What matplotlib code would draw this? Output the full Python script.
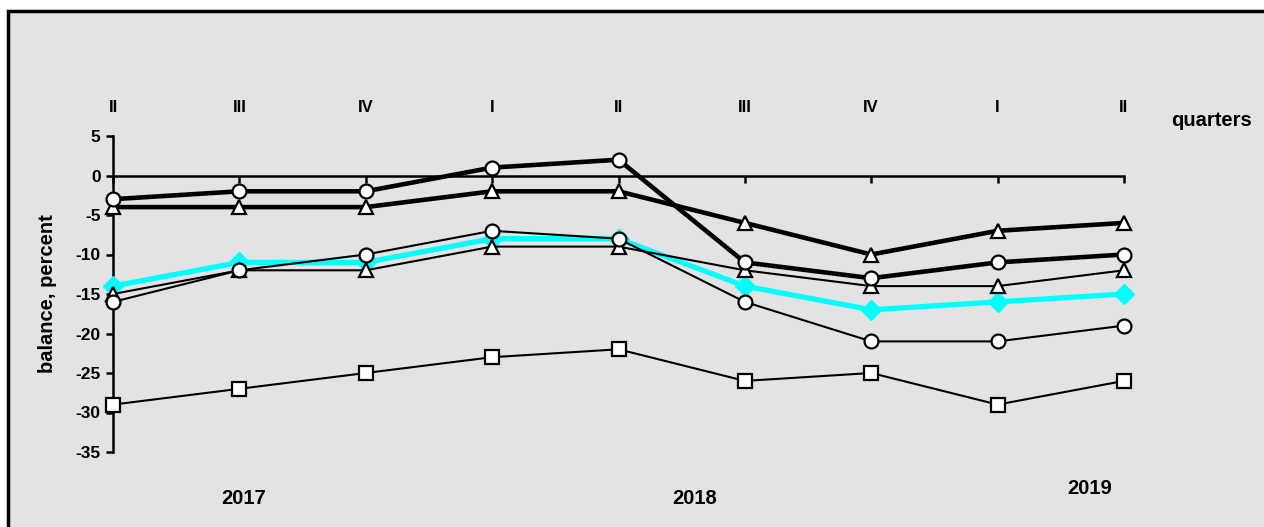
import matplotlib
matplotlib.use("Agg")
import matplotlib.pyplot as plt
from matplotlib.patches import Rectangle
from matplotlib.transforms import blended_transform_factory

plt.rcParams['font.family'] = ['Liberation Sans', 'DejaVu Sans']
plt.rcParams['font.weight'] = 'bold'
plt.rcParams['axes.unicode_minus'] = False

quarters = ['II', 'III', 'IV', 'I', 'II', 'III', 'IV', 'I', 'II']
years = ['2017', '2018', '2019']
year_pos = [1.03, 4.6, 7.73]

cyan_diamond = [-14, -11, -11, -8, -8, -14, -17, -16, -15]
thin_circle = [-16, -12, -10, -7, -8, -16, -21, -21, -19]
thin_triangle = [-15, -12, -12, -9, -9, -12, -14, -14, -12]
thin_square = [-29, -27, -25, -23, -22, -26, -25, -29, -26]
thick_triangle = [-4, -4, -4, -2, -2, -6, -10, -7, -6]
thick_circle = [-3, -2, -2, 1, 2, -11, -13, -11, -10]

W, H = 1264, 527
fig = plt.figure(figsize=(W / 100, H / 100), dpi=100)
fig.patch.set_facecolor('white')
bg = Rectangle((8 / W, -0.05), 1.1, (H - 11) / H + 0.05, transform=fig.transFigure,
               facecolor='#e3e3e3', edgecolor='black', linewidth=2.5, zorder=-10)
fig.patches.append(bg)

ax = fig.add_axes([113 / W, 1 - 452 / H, (1124 - 113) / W, (452 - 136) / H])
ax.set_facecolor('none')
x = list(range(len(quarters)))
ax.set_xlim(0, 8)
ax.set_ylim(-35, 5)

for s in ['top', 'right']:
    ax.spines[s].set_visible(False)
ax.spines['bottom'].set_position(('data', 0))
ax.spines['bottom'].set_linewidth(1.8)
ax.spines['left'].set_linewidth(1.8)
ax.set_yticks(range(-35, 6, 5))
ax.set_yticklabels([str(v) for v in range(-35, 6, 5)], fontsize=12.5, fontweight='bold')
ax.tick_params(axis='y', direction='out', length=5, width=1.8, pad=4)
ax.set_xticks(x)
ax.tick_params(axis='x', direction='out', length=5, width=1.8, labelbottom=False)

ms = 10
mew = 1.6
ax.plot(x, cyan_diamond, color='#00ffff', lw=3.8, marker='D', ms=10, mfc='#00ffff',
        mec='#00ffff', clip_on=False, zorder=3)
ax.plot(x, thin_square, color='black', lw=1.5, marker='s', ms=ms - 0.5, mfc='white',
        mec='black', mew=mew, clip_on=False, zorder=4)
ax.plot(x, thin_triangle, color='black', lw=1.5, marker='^', ms=ms, mfc='white',
        mec='black', mew=mew, clip_on=False, zorder=4)
ax.plot(x, thin_circle, color='black', lw=1.5, marker='o', ms=ms, mfc='white',
        mec='black', mew=mew, clip_on=False, zorder=4)
ax.plot(x, thick_triangle, color='black', lw=3.3, marker='^', ms=ms, mfc='white',
        mec='black', mew=mew, clip_on=False, zorder=5)
ax.plot(x, thick_circle, color='black', lw=3.3, marker='o', ms=ms, mfc='white',
        mec='black', mew=mew, clip_on=False, zorder=5)

tr = blended_transform_factory(ax.transData, fig.transFigure)
for xi, q in zip(x, quarters):
    ax.text(xi, 1 - 107 / H, q, transform=tr, ha='center', va='center',
            fontsize=12, fontweight='bold')
ax.text(8.69, 1 - 120 / H, 'quarters', transform=tr, ha='center', va='center',
        fontsize=14.5, fontweight='bold')
ax.text(year_pos[0], 1 - 498 / H, years[0], transform=tr, ha='center', va='center',
        fontsize=14.5, fontweight='bold')
ax.text(year_pos[1], 1 - 498 / H, years[1], transform=tr, ha='center', va='center',
        fontsize=14.5, fontweight='bold')
ax.text(year_pos[2], 1 - 488 / H, years[2], transform=tr, ha='center', va='center',
        fontsize=14.5, fontweight='bold')
fig.text(48 / W, 1 - 294 / H, 'balance, percent', rotation=90, ha='center', va='center',
         fontsize=14.5, fontweight='bold')

fig.savefig('out.png', dpi=100)
